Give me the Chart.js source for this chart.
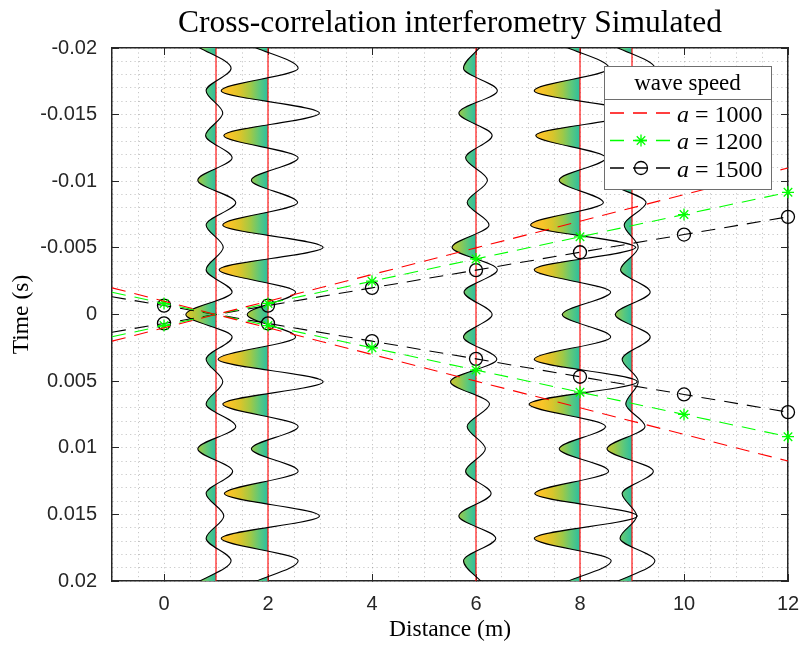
<!DOCTYPE html>
<html>
<head>
<meta charset="utf-8">
<title>Cross-correlation interferometry</title>
<script src="https://cdn.jsdelivr.net/npm/chart.js@4.4.1/dist/chart.umd.min.js"></script>
<style>
  html, body { margin: 0; padding: 0; background: #ffffff; }
  canvas { display: block; }
</style>
</head>
<body>
<canvas id="chart" width="801" height="645"></canvas>
<script>
// ---------- data ----------
// sensor offsets (m) at which the correlograms are plotted
const traceDistances = [1, 2, 6, 8, 9];

// times (s) of the alternating peaks and troughs of the correlograms
const peakTimes = [
  -0.02016, -0.01848, -0.0168, -0.01512, -0.01344, -0.01176, -0.01008, -0.0084,
  -0.00672, -0.00504, -0.00336, -0.00168, 0, 0.00168, 0.00336, 0.00504,
  0.00672, 0.0084, 0.01008, 0.01176, 0.01344, 0.01512, 0.0168, 0.01848, 0.02016
];

// deflection of each correlogram at those times (plot units, metres)
const swing1m = [-0.38, 0.29, -0.19, 0.13, -0.2, 0.31, -0.35, 0.38, -0.19, 0.14, -0.19, 0.31, -0.58,
                 0.31, -0.19, 0.13, -0.19, 0.38, -0.35, 0.32, -0.19, 0.15, -0.19, 0.29, -0.38];
const swing2m = [-0.32, 0.58, -0.9, 0.99, -0.85, 0.58, -0.32, 0.57, -0.87, 1.06, -0.94, 0.53, -0.4,
                 0.53, -0.96, 1.06, -0.87, 0.58, -0.32, 0.58, -0.84, 0.99, -0.9, 0.58, -0.32];
const swing6m = [0.1, -0.24, 0.41, -0.33, 0.31, -0.2, 0.22, -0.17, 0.25, -0.46, 0.41, -0.23, 0.31,
                 -0.24, 0.4, -0.49, 0.26, -0.17, 0.18, -0.2, 0.29, -0.33, 0.38, -0.24, 0.13];
const swing8m = [-0.32, 0.56, -0.88, 1.08, -0.85, 0.5, -0.4, 0.45, -0.95, 1.07, -0.88, 0.59, -0.34,
                 0.59, -0.88, 1.1, -0.98, 0.49, -0.4, 0.55, -0.87, 1.1, -0.88, 0.6, -0.33];
const swing9m = [-0.35, 0.44, -0.23, 0.09, -0.19, 0.41, -0.48, 0.27, -0.15, 0.12, -0.22, 0.35, -0.32,
                 0.35, -0.19, 0.12, -0.12, 0.25, -0.48, 0.41, -0.19, 0.09, -0.23, 0.44, -0.35];
const traceSwings = [swing1m, swing2m, swing6m, swing8m, swing9m];

// move-out lines for the three trial wave speeds
const waveSpeeds = [1000, 1200, 1500];
const lineDistances = [-1, 0, 2, 4, 6, 8, 10, 12];
const markerDistances = [0, 2, 4, 6, 8, 10, 12];
const lag1000Rise = [-0.002, -0.001, 0.001, 0.003, 0.005, 0.007, 0.009, 0.011];
const lag1000Fall = [0.002, 0.001, -0.001, -0.003, -0.005, -0.007, -0.009, -0.011];
const lag1200Rise = [-0.00167, -0.00083, 0.00083, 0.0025, 0.00417, 0.00583, 0.0075, 0.00917];
const lag1200Fall = [0.00167, 0.00083, -0.00083, -0.0025, -0.00417, -0.00583, -0.0075, -0.00917];
const lag1500Rise = [-0.00133, -0.00067, 0.00067, 0.002, 0.00333, 0.00467, 0.006, 0.00733];
const lag1500Fall = [0.00133, 0.00067, -0.00067, -0.002, -0.00333, -0.00467, -0.006, -0.00733];

// axis ticks
const xTickValues = [0, 2, 4, 6, 8, 10, 12];
const xTickLabels = ['0', '2', '4', '6', '8', '10', '12'];
const yTickValues = [-0.02, -0.015, -0.01, -0.005, 0, 0.005, 0.01, 0.015, 0.02];
const yTickLabels = ['-0.02', '-0.015', '-0.01', '-0.005', '0', '0.005', '0.01', '0.015', '0.02'];

// ---------- styling ----------
const axisInk = '#262626';
const gridInk = 'rgba(0,0,0,0.22)';
const gridDots = [1.2, 3.2];
const moveOutDash = [14, 9];
const serif = '"Liberation Serif", "Times New Roman", serif';
const sans = '"Liberation Sans", Arial, sans-serif';

// line and marker style of each wave speed
const speedStyles = [
  { color: '#ff0000', marker: null, radius: 0 },
  { color: '#00ff00', marker: 'star', radius: 6 },
  { color: '#000000', marker: 'circle', radius: 6.5 }
];

Chart.defaults.font.family = sans;

function indexIn(list, v) {
  return list.findIndex(m => Math.abs(m - v) < 1e-9);
}

// colour ramp of the negative lobes, from the lobe tip (far) to the trace axis
const LOBE_SPAN = 1.05;
function lobeFill(context, base) {
  const chart = context.chart;
  const xs = chart.scales && chart.scales.x;
  if (!chart.chartArea || !xs) return 'rgba(0,0,0,0)';
  const tip = xs.getPixelForValue(base - LOBE_SPAN);
  const axis = xs.getPixelForValue(base);
  const end = axis + 1;
  const g = chart.ctx.createLinearGradient(tip, 0, end, 0);
  const f = (axis - tip) / (end - tip);
  g.addColorStop(0, 'rgb(254,186,54)');
  g.addColorStop(f * 0.3, 'rgb(250,196,40)');
  g.addColorStop(f * 0.5, 'rgb(216,197,44)');
  g.addColorStop(f * 0.68, 'rgb(160,201,70)');
  g.addColorStop(f * 0.85, 'rgb(90,200,125)');
  g.addColorStop(f, 'rgb(44,190,160)');
  g.addColorStop(Math.min(1, f + 0.0005), 'rgba(44,190,160,0)');
  g.addColorStop(1, 'rgba(44,190,160,0)');
  return g;
}

// ---------- datasets ----------
function moveOutSet(lags, style, label) {
  return {
    label: label,
    data: lineDistances.map((d, i) => ({ x: d, y: lags[i] })),
    borderColor: style.color,
    borderWidth: 1.1,
    borderDash: moveOutDash,
    fill: false,
    tension: 0,
    pointStyle: style.marker || 'circle',
    pointRadius: lineDistances.map(d => (style.marker && indexIn(markerDistances, d) >= 0) ? style.radius : 0),
    pointBorderColor: style.color,
    pointBackgroundColor: 'rgba(0,0,0,0)',
    pointBorderWidth: 1.3,
    clip: false,
    xAxisID: 'x',
    yAxisID: 'y'
  };
}

const moveOutSets = [
  moveOutSet(lag1000Rise, speedStyles[0], 'a = ' + waveSpeeds[0]),
  moveOutSet(lag1000Fall, speedStyles[0]),
  moveOutSet(lag1200Rise, speedStyles[1], 'a = ' + waveSpeeds[1]),
  moveOutSet(lag1200Fall, speedStyles[1]),
  moveOutSet(lag1500Rise, speedStyles[2], 'a = ' + waveSpeeds[2]),
  moveOutSet(lag1500Fall, speedStyles[2])
];

const traceSets = traceDistances.map((base, k) => ({
  data: peakTimes.map((t, i) => ({ x: base + traceSwings[k][i], y: t })),
  borderColor: '#000000',
  borderWidth: 1.1,
  pointRadius: 0,
  cubicInterpolationMode: 'monotone',
  fill: { value: base },
  backgroundColor: (c) => lobeFill(c, base),
  clip: 0,
  xAxisID: 'x',
  yAxisID: 'y'
}));

const axisSets = traceDistances.map(base => ({
  data: [{ x: base, y: -0.02 }, { x: base, y: 0.02 }],
  borderColor: '#ff0000',
  borderWidth: 1.1,
  pointRadius: 0,
  fill: false,
  xAxisID: 'x',
  yAxisID: 'y'
}));

// ---------- legend box drawn inside the axes ----------
function drawMarker(ctx, style, r, lw, x, y) {
  ctx.save();
  ctx.strokeStyle = style.color;
  ctx.fillStyle = 'rgba(0,0,0,0)';
  ctx.lineWidth = lw;
  if (Chart.helpers && Chart.helpers.drawPoint) {
    Chart.helpers.drawPoint(ctx, { pointStyle: style.marker, radius: r, borderWidth: lw, rotation: 0 }, x, y);
  } else {
    ctx.beginPath();
    if (style.marker === 'circle') {
      ctx.arc(x, y, r, 0, Math.PI * 2);
    } else {
      for (let a = 0; a < 4; a++) {
        const ang = a * Math.PI / 4;
        ctx.moveTo(x - r * Math.cos(ang), y - r * Math.sin(ang));
        ctx.lineTo(x + r * Math.cos(ang), y + r * Math.sin(ang));
      }
    }
    ctx.stroke();
  }
  ctx.restore();
}

const speedLegend = {
  id: 'speedLegend',
  afterDraw(chart) {
    const ctx = chart.ctx;
    const area = chart.chartArea;
    const w = 167, h = 123;
    const left = area.right - 17 - w;
    const top = area.top + 18;
    ctx.save();
    ctx.fillStyle = '#ffffff';
    ctx.fillRect(left, top, w, h);
    ctx.strokeStyle = '#6e6e6e';
    ctx.lineWidth = 1;
    ctx.strokeRect(left + 0.5, top + 0.5, w, h);
    ctx.beginPath();
    ctx.moveTo(left, top + 33.5);
    ctx.lineTo(left + w, top + 33.5);
    ctx.stroke();

    ctx.fillStyle = '#000000';
    ctx.font = '23px ' + serif;
    ctx.textAlign = 'center';
    ctx.textBaseline = 'alphabetic';
    ctx.fillText('wave speed', left + w / 2, top + 24);

    waveSpeeds.forEach((speed, i) => {
      const style = speedStyles[i];
      const y = top + 47 + i * 27.5;
      const x0 = left + 6, x1 = left + 68;
      ctx.save();
      ctx.strokeStyle = style.color;
      ctx.lineWidth = 1.6;
      ctx.setLineDash(moveOutDash);
      ctx.beginPath();
      ctx.moveTo(x0, y);
      ctx.lineTo(x1, y);
      ctx.stroke();
      ctx.restore();
      if (style.marker) drawMarker(ctx, style, style.radius, 1.3, (x0 + x1) / 2, y);
      // "a = 1000" with an italic variable
      let tx = left + 73;
      const ty = y + 8.5;
      ctx.textAlign = 'left';
      ctx.fillStyle = '#000000';
      ctx.font = 'italic 24px ' + serif;
      ctx.fillText('a', tx, ty);
      tx += ctx.measureText('a').width + 6;
      ctx.font = '24px ' + serif;
      ctx.fillText('=', tx, ty);
      tx += ctx.measureText('=').width + 6;
      ctx.fillText(String(speed), tx, ty);
    });
    ctx.restore();
  }
};

// keep the axes box fixed: no extra room for overhanging tick labels
function noOverhang(s) {
  s.paddingLeft = 0; s.paddingRight = 0; s.paddingTop = 0; s.paddingBottom = 0;
}

// ---------- chart ----------
new Chart(document.getElementById('chart'), {
  type: 'line',
  data: { datasets: [...moveOutSets, ...traceSets, ...axisSets] },
  options: {
    indexAxis: 'y',
    responsive: false,
    devicePixelRatio: 1,
    animation: false,
    events: [],
    layout: { padding: 0 },
    plugins: {
      legend: { display: false },
      tooltip: { enabled: false },
      filler: { drawTime: 'beforeDatasetsDraw' }
    },
    scales: {
      x: {
        type: 'linear', position: 'bottom', min: -1, max: 12,
        afterFit: s => { s.height = 64; noOverhang(s); },
        afterBuildTicks: s => { const t = []; for (let i = -2; i <= 24; i++) t.push({ value: i / 2 }); s.ticks = t; },
        grid: {
          color: gridInk, lineWidth: 1,
          drawTicks: true, tickLength: -7, tickWidth: 1, tickBorderDash: [],
          tickColor: c => (c.tick && indexIn(xTickValues, c.tick.value) >= 0) ? axisInk : 'rgba(0,0,0,0)'
        },
        border: { display: true, color: axisInk, width: 1.5, dash: gridDots },
        ticks: {
          autoSkip: false, maxRotation: 0, padding: 18, color: axisInk,
          font: { family: sans, size: 20 },
          callback: v => { const i = indexIn(xTickValues, v); return i >= 0 ? xTickLabels[i] : ''; }
        },
        title: {
          display: true, text: 'Distance (m)', color: '#000000',
          font: { family: serif, size: 23.5, lineHeight: 1.2 }, padding: { top: 0, bottom: 1 }
        }
      },
      y: {
        type: 'linear', position: 'left', min: -0.02, max: 0.02, reverse: true,
        afterFit: s => { s.width = 112; noOverhang(s); },
        afterBuildTicks: s => { const t = []; for (let i = -20; i <= 20; i++) t.push({ value: i / 1000 }); s.ticks = t; },
        grid: {
          color: gridInk, lineWidth: 1,
          drawTicks: true, tickLength: -7, tickWidth: 1, tickBorderDash: [],
          tickColor: c => (c.tick && indexIn(yTickValues, c.tick.value) >= 0) ? axisInk : 'rgba(0,0,0,0)'
        },
        border: { display: true, color: axisInk, width: 1.5, dash: gridDots },
        ticks: {
          autoSkip: false, padding: 22, color: axisInk,
          font: { family: sans, size: 20 },
          callback: v => { const i = indexIn(yTickValues, v); return i >= 0 ? yTickLabels[i] : ''; }
        },
        title: {
          display: true, text: 'Time (s)', color: '#000000',
          font: { family: serif, size: 23.5, lineHeight: 1.2 }, padding: { top: 8, bottom: 0 }
        }
      },
      x2: {
        type: 'linear', axis: 'x', position: 'top', min: -1, max: 12,
        afterFit: s => { s.height = 48; noOverhang(s); },
        afterBuildTicks: s => { s.ticks = xTickValues.map(v => ({ value: v })); },
        grid: { drawOnChartArea: false, drawTicks: true, tickLength: -7, tickWidth: 1, tickColor: axisInk, tickBorderDash: [] },
        border: { display: true, color: axisInk, width: 1.5 },
        ticks: { display: false },
        title: {
          display: true, text: 'Cross-correlation interferometry Simulated', color: '#000000',
          font: { family: serif, size: 31.5, lineHeight: 1.2 }, padding: { top: 5, bottom: 0 }
        }
      },
      y2: {
        type: 'linear', axis: 'y', position: 'right', min: -0.02, max: 0.02, reverse: true,
        afterFit: s => { s.width = 13; noOverhang(s); },
        afterBuildTicks: s => { s.ticks = yTickValues.map(v => ({ value: v })); },
        grid: { drawOnChartArea: false, drawTicks: true, tickLength: -7, tickWidth: 1, tickColor: axisInk, tickBorderDash: [] },
        border: { display: true, color: axisInk, width: 1.5 },
        ticks: { display: false }
      }
    }
  },
  plugins: [speedLegend]
});
</script>
</body>
</html>
